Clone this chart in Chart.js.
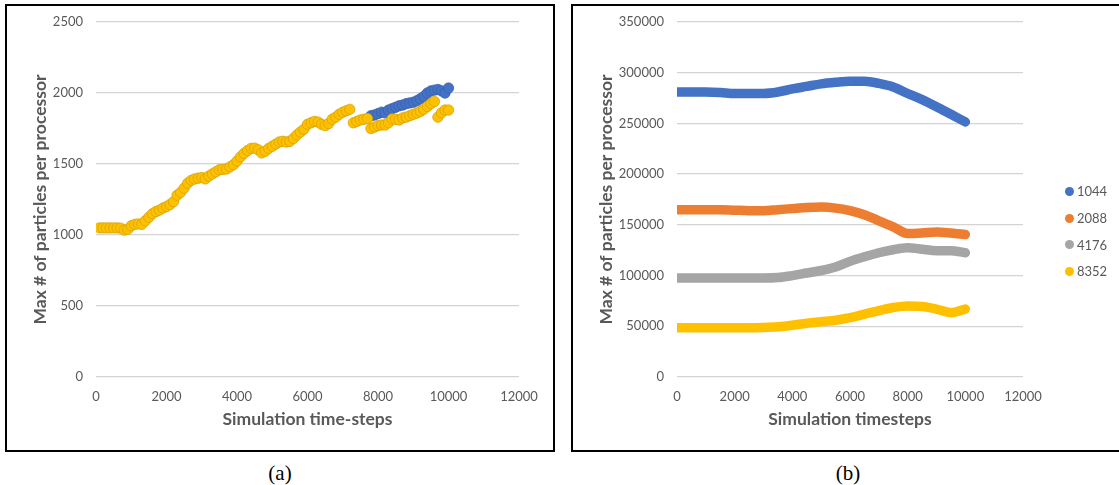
<!DOCTYPE html>
<html><head><meta charset="utf-8">
<script src="https://cdn.jsdelivr.net/npm/chart.js@4.4.0/dist/chart.umd.min.js"></script>
<style>
html,body{margin:0;padding:0;background:#fff;width:1119px;height:485px;overflow:hidden;position:relative;}
.box{position:absolute;border:2px solid #000;box-sizing:border-box;}
#boxA{left:5px;top:4px;width:550px;height:448px;}
#boxB{left:571px;top:4px;width:600px;height:448px;}
canvas{position:absolute;}
#cA{left:7px;top:6px;}
#cB{left:573px;top:6px;}
.cap{position:absolute;font-family:"Liberation Serif",serif;font-size:21px;line-height:24px;color:#000;transform:translateX(-50%);top:461px;}
#legend{position:absolute;left:1060px;top:178px;font-family:Lato,sans-serif;font-size:13px;color:#595959;}
#legend .it{height:26.7px;display:flex;align-items:center;white-space:nowrap;}
#legend .dot{display:inline-block;width:9px;height:9px;border-radius:50%;margin-left:5px;margin-right:3px;}
</style>
</head><body>
<div class="box" id="boxA"></div>
<div class="box" id="boxB"></div>
<canvas id="cA" width="546" height="444"></canvas>
<canvas id="cB" width="546" height="444"></canvas>
<div class="cap" style="left:280px">(a)</div>
<div class="cap" style="left:848px">(b)</div>
<div id="legend"></div>
<script>
// ---- Chart (a) data ----
const stepsA = [100,200,300,400,500,600,700,800,900,1000,
 1100,1200,1300,1400,1500,1600,1700,1800,1900,2000,
 2100,2200,2300,2400,2500,2600,2700,2800,2900,3000,
 3100,3200,3300,3400,3500,3600,3700,3800,3900,4000,
 4100,4200,4300,4400,4500,4600,4700,4800,4900,5000,
 5100,5200,5300,5400,5500,5600,5700,5800,5900,6000,
 6100,6200,6300,6400,6500,6600,6700,6800,6900,7000,
 7100,7200,7300,7400,7500,7600,7700,7800,7900,8000,
 8100,8200,8300,8400,8500,8600,8700,8800,8900,9000,
 9100,9200,9300,9400,9500,9600,9700,9800,9900,10000];
const yellowA = [1050,1050,1050,1050,1050,1050,1048,1035,1040,1065,
 1075,1078,1075,1100,1125,1150,1165,1175,1190,1200,
 1215,1235,1280,1300,1330,1365,1385,1395,1400,1405,
 1395,1415,1430,1445,1460,1462,1465,1480,1495,1520,
 1550,1575,1595,1610,1612,1600,1578,1590,1610,1625,
 1640,1655,1660,1655,1660,1680,1705,1725,1745,1780,
 1790,1800,1795,1780,1770,1785,1815,1830,1850,1865,
 1875,1885,1790,1800,1810,1815,1820,1750,1760,1770,
 1775,1775,1790,1818,1815,1810,1825,1830,1840,1850,
 1858,1870,1885,1905,1925,1940,1830,1860,1880,1880];
const stepsBlueA = [7800,7900,8000,8100,8200,8300,8400,8500,8600,8700,8800,8900,9000,9100,9200,9300,9400,9500,9600,9700,9800,9900,10000];
const blueA = [1840,1845,1855,1865,1860,1880,1890,1900,1910,1915,1925,1930,1935,1945,1960,1975,2000,2015,2020,2025,2015,2000,2035];

// ---- Chart (b) data ----
const stepsB = [0,500,1000,1500,2000,2500,3000,3500,4000,4500,5000,5500,6000,6500,7000,7500,8000,8500,9000,9500,10000];
const seriesNames = ['1044','2088','4176','8352'];
const s1044 = [281000,281000,281000,280500,279500,279500,279500,281000,284000,286500,289000,290500,291500,291500,289500,286000,279500,273500,266500,259000,251500];
const s2088 = [165000,165000,165000,165000,164500,164000,164000,165000,166000,167000,167500,166500,164000,160000,154000,148000,141500,142000,143000,142000,140500];
const s4176 = [97500,97500,97500,97500,97500,97500,97500,98000,100000,102500,105000,108500,114000,118500,122500,125500,127500,126000,124500,124500,122500];
const s8352 = [48500,48500,48500,48500,48500,48500,48800,49500,51000,53000,54500,56000,58500,62000,65500,68500,70000,69500,67000,63500,67000];
const colors = ['#4472C4','#ED7D31','#A5A5A5','#FFC000'];

const xTicksMax = 12000, xStep = 2000;
const yTicksA = {max:2500, step:500};
const yTicksB = {max:350000, step:50000};

const TXT = '#595959';
const tickFont = {family:'Lato', size:13};
const titleFont = {family:'Lato', size:17.5, weight:'bold'};
const plain = v => String(v);

function pts(xs, ys){ return xs.map((x,i)=>({x:x, y:ys[i]})); }

function scales(yCfg, yWidth, xTitle){
  return {
    x:{type:'linear', min:0, max:xTicksMax,
       ticks:{stepSize:xStep, color:TXT, font:tickFont, padding:12, maxRotation:0, callback:plain},
       grid:{display:false, drawTicks:false}, border:{display:false},
       title:{display:true, text:xTitle, color:TXT, font:titleFont, padding:{top:0,bottom:20}},
       afterFit:s=>{s.height=73; s.paddingLeft=0; s.paddingRight=0;}},
    y:{min:0, max:yCfg.max,
       ticks:{stepSize:yCfg.step, color:TXT, font:tickFont, padding:13, callback:plain},
       grid:{color:'#d4d4d4', lineWidth:1.3, drawTicks:false}, border:{display:false},
       title:{display:true, text:'Max # of particles per processor', color:TXT, font:titleFont, padding:{top:23,bottom:0}},
       afterFit:s=>{s.width=yWidth; s.paddingTop=0; s.paddingBottom=0;}}
  };
}

new Chart(document.getElementById('cA'), {
  type:'scatter',
  data:{datasets:[
    {label:'8352', data:pts(stepsA, yellowA), backgroundColor:colors[3], borderColor:'rgba(210,160,0,0.9)', borderWidth:0.8, pointRadius:5.2, showLine:false},
    {label:'1044', data:pts(stepsBlueA, blueA), backgroundColor:colors[0], borderColor:'rgba(55,95,170,0.9)', borderWidth:0.8, pointRadius:5.2, showLine:false}
  ]},
  options:{responsive:false, animation:false, events:[],
    layout:{padding:{left:0, top:16, right:34, bottom:0}},
    plugins:{legend:{display:false}, tooltip:{enabled:false}},
    scales:scales(yTicksA, 89, 'Simulation time-steps')}
});

const bSeries = [s1044, s2088, s4176, s8352];
const chartB = new Chart(document.getElementById('cB'), {
  type:'line',
  data:{datasets:bSeries.map((s,i)=>({label:seriesNames[i], data:pts(stepsB, s), borderColor:colors[i], backgroundColor:colors[i],
      borderWidth:9.5, pointRadius:0, cubicInterpolationMode:'monotone', borderCapStyle:'round', borderJoinStyle:'round', fill:false}))},
  options:{responsive:false, animation:false, events:[],
    layout:{padding:{left:0, top:16, right:96, bottom:0}},
    plugins:{legend:{display:false}, tooltip:{enabled:false}},
    scales:scales(yTicksB, 104, 'Simulation timesteps')}
});

// HTML legend built from chart (b) datasets
const leg = document.getElementById('legend');
chartB.data.datasets.forEach(ds=>{
  const it = document.createElement('div'); it.className='it';
  const d = document.createElement('span'); d.className='dot'; d.style.background = ds.borderColor;
  const t = document.createElement('span'); t.textContent = ds.label;
  it.appendChild(d); it.appendChild(t); leg.appendChild(it);
});
</script>
</body></html>
